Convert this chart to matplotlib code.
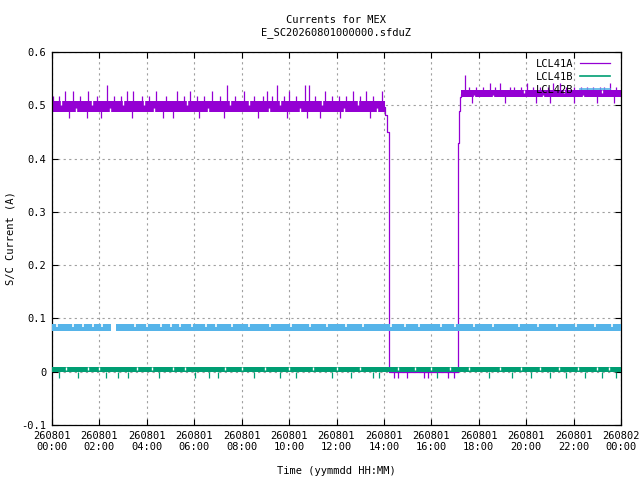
import numpy as np
import matplotlib.pyplot as plt
from matplotlib.ticker import FixedLocator

plt.rcParams['font.family'] = 'DejaVu Sans Mono'

# colours of the three currents (gnuplot default palette)
col_a = '#9400d3'
col_b = '#009e73'
col_c = '#56b4e9'

# time is in hours from 260801 00:00
xtick_h = [0, 2, 4, 6, 8, 10, 12, 14, 16, 18, 20, 22, 24]
xtick_lab = ['260801\n00:00', '260801\n02:00', '260801\n04:00', '260801\n06:00',
             '260801\n08:00', '260801\n10:00', '260801\n12:00', '260801\n14:00',
             '260801\n16:00', '260801\n18:00', '260801\n20:00', '260801\n22:00',
             '260802\n00:00']
ytick_v = [-0.1, 0, 0.1, 0.2, 0.3, 0.4, 0.5, 0.6]
ytick_lab = ['-0.1', '0', '0.1', '0.2', '0.3', '0.4', '0.5', '0.6']

# LCL41A : base level (step trace) incl. switch off/on
a_t = [0.0, 14.04, 14.11, 14.23, 17.11, 17.15, 17.19, 17.25, 24.0]
a_v = [0.497, 0.482, 0.449, 0.0, 0.43, 0.49, 0.516, 0.521, 0.521]
# LCL41A : band of fast toggling readings (start, end, low, high)
a_band_t0 = [0.0, 17.25]
a_band_t1 = [14.04, 24.0]
a_band_lo = [0.487, 0.515]
a_band_hi = [0.508, 0.528]
# LCL41A : upward spikes before switch-off
a_up1_t = [0.05, 0.3, 0.55, 0.9, 1.2, 1.52, 1.9, 2.3, 2.6, 2.9, 3.15, 3.42,
           3.8, 4.1, 4.4, 4.8, 5.27, 5.55, 5.8, 6.1, 6.4, 6.75, 7.1, 7.4, 7.7,
           8.1, 8.5, 8.9, 9.07, 9.3, 9.5, 9.8, 10.0, 10.3, 10.67, 10.84, 11.1,
           11.5, 11.8, 12.1, 12.4, 12.7, 13.0, 13.24, 13.55, 13.9]
a_up1_v = [0.517, 0.517, 0.526, 0.526, 0.517, 0.527, 0.517, 0.538, 0.517, 0.517,
           0.526, 0.527, 0.517, 0.517, 0.526, 0.517, 0.527, 0.517, 0.526, 0.517,
           0.517, 0.526, 0.517, 0.538, 0.517, 0.526, 0.517, 0.517, 0.526, 0.517,
           0.538, 0.517, 0.526, 0.517, 0.538, 0.538, 0.517, 0.526, 0.517, 0.517,
           0.517, 0.526, 0.517, 0.526, 0.517, 0.526]
# LCL41A : downward spikes before switch-off
a_dn1_t = [0.7, 1.46, 2.05, 3.37, 4.67, 5.1, 6.2, 7.25, 8.7, 9.9, 10.76,
           11.3, 12.15, 13.4]
a_dn1_v = [0.477] * 14
# LCL41A : upward / downward spikes after switch-on
a_up2_t = [17.42, 17.6, 17.9, 18.2, 18.47, 18.7, 18.9, 19.3, 19.5, 19.8, 20.03,
           20.3, 20.6, 20.9, 21.13, 21.43, 21.7, 22.0, 22.3, 22.55, 22.8, 23.1,
           23.3, 23.53, 23.8]
a_up2_v = [0.557, 0.535, 0.535, 0.535, 0.542, 0.535, 0.542, 0.535, 0.535, 0.535,
           0.542, 0.535, 0.535, 0.535, 0.542, 0.542, 0.535, 0.535, 0.535, 0.535,
           0.535, 0.535, 0.535, 0.542, 0.535]
a_dn2_t = [17.7, 19.1, 20.4, 21.0, 22.0, 23.0, 23.7]
a_dn2_v = [0.504] * 7
# LCL41A : downward spikes while switched off
a_dn0_t = [14.44, 14.58, 14.96, 15.70, 15.87, 16.69, 16.97]
a_dn0_v = [-0.012] * 7
# LCL41A : white gaps in the band (time, bottom, top)
a_gap_t = [0.4, 1.0, 1.7, 2.45, 3.0, 3.9, 4.3, 5.7, 6.6, 7.5, 8.3, 9.15, 9.6,
           10.45, 11.4, 12.3, 12.9, 13.7, 17.8, 18.6, 19.9, 20.7, 21.6, 22.4,
           23.2]
a_gap_lo = [0.5, 0.487, 0.5, 0.487, 0.5, 0.5, 0.487, 0.5, 0.487, 0.5, 0.5,
            0.487, 0.5, 0.487, 0.5, 0.487, 0.5, 0.487, 0.515, 0.515, 0.523,
            0.515, 0.523, 0.515, 0.523]
a_gap_hi = [0.509, 0.494, 0.509, 0.494, 0.509, 0.509, 0.494, 0.509, 0.494,
            0.509, 0.509, 0.494, 0.509, 0.494, 0.509, 0.494, 0.509, 0.494,
            0.519, 0.519, 0.529, 0.519, 0.529, 0.519, 0.529]

# LCL41B : band near zero, with downward spikes
b_band_t0 = [0.0]
b_band_t1 = [24.0]
b_band_lo = [-0.001]
b_band_hi = [0.009]
b_spk_t = [0.31, 1.1, 2.28, 2.8, 3.22, 4.5, 6.03, 6.62, 7.01, 8.5, 9.6, 10.3,
           11.8, 12.6, 13.55, 13.79, 16.22, 18.44, 19.4, 20.2, 21.0, 21.7,
           22.5, 23.2, 23.8]
b_spk_v = [-0.012] * 25
b_gap_t = [0.6, 1.5, 2.0, 3.6, 4.2, 5.1, 5.6, 7.3, 8.0, 9.0, 10.0, 11.0, 12.0,
           13.0, 14.6, 15.3, 16.0, 16.8, 17.6, 18.9, 19.8, 20.6, 21.4, 22.2,
           23.0, 23.5]

# LCL42B : band around 0.083, with short notches in the top edge
c_band_t0 = [0.0, 2.68]
c_band_t1 = [2.5, 24.0]
c_band_lo = [0.077, 0.077]
c_band_hi = [0.089, 0.089]
c_notch_t = [0.2, 0.9, 1.3, 1.75, 2.1, 3.5, 4.0, 4.6, 5.0, 5.4, 5.9, 6.5, 6.9,
             7.6, 8.3, 9.2, 10.1, 10.9, 11.6, 12.4, 13.1, 14.3, 14.9, 15.5,
             16.4, 17.0, 17.8, 18.6, 19.7, 20.5, 21.3, 22.1, 22.9, 23.6]

fig = plt.figure(figsize=(6.4, 4.8), dpi=100)
ax = fig.add_axes([52 / 640, 1 - 425 / 480, 569 / 640, 373 / 480])
fs = 7.5
lw = 0.9

# LCL41A
for t0, t1, lo, hi in zip(a_band_t0, a_band_t1, a_band_lo, a_band_hi):
    ax.fill_between([t0, t1], [lo, lo], [hi, hi], color=col_a, lw=0, zorder=2)
ax.vlines(a_gap_t, a_gap_lo, a_gap_hi, color='white', lw=1.0, zorder=2)
ax.vlines(a_up1_t, 0.5, a_up1_v, color=col_a, lw=lw, zorder=2)
ax.vlines(a_dn1_t, 0.49, a_dn1_v, color=col_a, lw=lw, zorder=2)
ax.vlines(a_up2_t, 0.52, a_up2_v, color=col_a, lw=lw, zorder=2)
ax.vlines(a_dn2_t, 0.52, a_dn2_v, color=col_a, lw=lw, zorder=2)
ax.vlines(a_dn0_t, 0.0, a_dn0_v, color=col_a, lw=lw, zorder=2)
ax.plot(a_t, a_v, drawstyle='steps-post', color=col_a, lw=lw, zorder=2,
        label='LCL41A')

# LCL41B
for t0, t1, lo, hi in zip(b_band_t0, b_band_t1, b_band_lo, b_band_hi):
    ax.fill_between([t0, t1], [lo, lo], [hi, hi], color=col_b, lw=0, zorder=3)
ax.vlines(b_gap_t, 0.004, 0.0095, color='white', lw=1.0, zorder=3)
ax.vlines(b_spk_t, 0, b_spk_v, color=col_b, lw=lw, zorder=3)
ax.plot([], [], color=col_b, lw=1.2, label='LCL41B')

# LCL42B
for t0, t1, lo, hi in zip(c_band_t0, c_band_t1, c_band_lo, c_band_hi):
    ax.fill_between([t0, t1], [lo, lo], [hi, hi], color=col_c, lw=0, zorder=4)
ax.vlines(c_notch_t, 0.0835, 0.0895, color='white', lw=1.2, zorder=4)
ax.plot([], [], color=col_c, lw=1.2, label='LCL42B')

ax.set_xlim(0, 24)
ax.set_ylim(-0.1, 0.6)
ax.xaxis.set_major_locator(FixedLocator(xtick_h))
ax.set_xticklabels(xtick_lab, fontsize=fs)
ax.yaxis.set_major_locator(FixedLocator(ytick_v))
ax.set_yticklabels(ytick_lab, fontsize=fs)
ax.tick_params(direction='in', length=4, width=0.8, top=True, right=True, pad=4)
ax.grid(True, color='#a0a0a0', linestyle=(0, (2, 3)), lw=0.8, zorder=1)
ax.set_axisbelow(True)
for s in ax.spines.values():
    s.set_linewidth(0.9)

ax.set_xlabel('Time (yymmdd HH:MM)', fontsize=fs, labelpad=10)
ax.set_ylabel('S/C Current (A)', fontsize=fs, labelpad=4)
ax.set_title('Currents for MEX\nE_SC20260801000000.sfduZ', fontsize=fs,
             pad=12, linespacing=1.25)

leg = ax.legend(loc='upper right', bbox_to_anchor=(0.99, 0.996), frameon=False,
                markerfirst=False, fontsize=fs, handlelength=2.9,
                handletextpad=0.6, labelspacing=0.3, borderpad=0)
leg.set_zorder(6)

plt.savefig('out.png', dpi=100)
